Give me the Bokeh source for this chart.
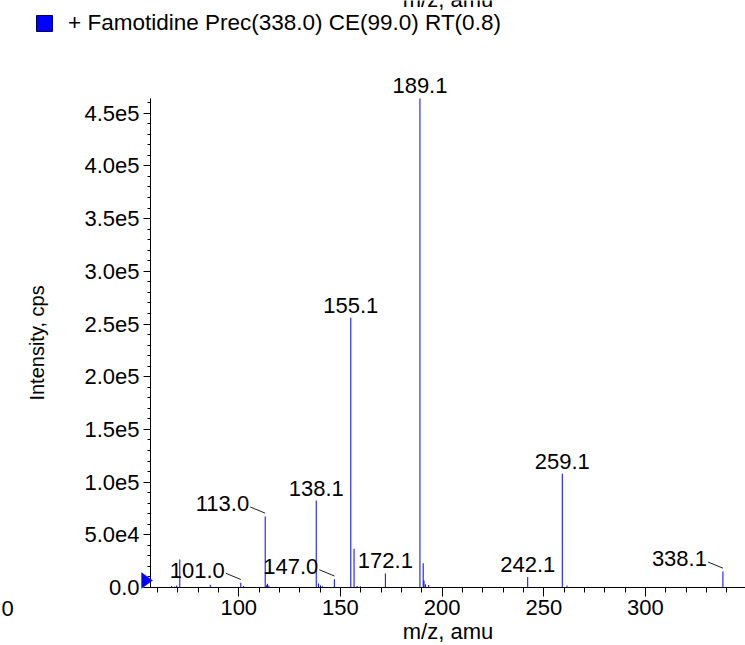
from bokeh.plotting import figure
from bokeh.models import (ColumnDataSource, LabelSet, Label, Legend, LegendItem,
                          SingleIntervalTicker, CustomJSTickFormatter, PolyAnnotation)
from bokeh.core.properties import value
from bokeh.embed import file_html
from bokeh.resources import INLINE

# ---------------- data ----------------
mz = [67.0, 68.5, 69.5, 71.0, 86.0, 101.0, 102.3, 113.0, 113.6, 114.1, 114.8,
      138.1, 139.2, 140.2, 141.0, 147.0, 155.1, 156.7, 158.2, 159.8, 172.1,
      189.1, 190.7, 191.1, 191.8, 193.4, 242.1, 259.1, 261.4, 338.1]
intensity = [1500, 1000, 1800, 26600, 2600, 4500, 1500, 67400, 2000, 3500, 1800,
             82500, 3800, 2000, 1500, 7800, 256000, 36700, 1500, 1200, 13300,
             464000, 23000, 6600, 3000, 2400, 10000, 108000, 1900, 15200]

label_mz = [101.0, 113.0, 138.1, 147.0, 155.1, 172.1, 189.1, 242.1, 259.1, 338.1]
label_text = ["101.0", "113.0", "138.1", "147.0", "155.1", "172.1", "189.1",
              "242.1", "259.1", "338.1"]
label_side = ["left", "left", "above", "left", "above", "above", "above",
              "above", "above", "left"]

legend_label = "+ Famotidine Prec(338.0) CE(99.0) RT(0.8)"
x_title = "m/z, amu"
y_title = "Intensity, cps"
stray_tick_text = "0"

x_axis_start = 56.6
y_axis_start, y_axis_end = 0, 464000
x_tick_interval = 50
y_tick_interval = 50000

# ---------------- geometry ----------------
W, H = 745, 645
AX_X_PX, AX_Y_PX = 150, 587          # pixel position of the axis origin
X_PX_PER_UNIT = 2.0335
Y_UNITS_PER_PX = 948.8
px_x = 1.0 / X_PX_PER_UNIT
px_y = Y_UNITS_PER_PX
x_view = (x_axis_start - AX_X_PX * px_x, x_axis_start + (W - AX_X_PX) * px_x)
y_view = (y_axis_start - (H - AX_Y_PX) * px_y, y_axis_start + AX_Y_PX * px_y)

FONT = "Liberation Sans"
BLUE = "#0000FF"
NAN = float("nan")

p = figure(width=W, height=H, x_range=x_view, y_range=y_view,
           output_backend="svg", toolbar_location=None,
           min_border=0, min_border_left=0, min_border_right=0,
           min_border_top=0, min_border_bottom=0,
           background_fill_color="white", border_fill_color="white")
p.outline_line_color = None
p.xgrid.visible = False
p.ygrid.visible = False

# spectrum sticks
src = ColumnDataSource(dict(x=mz, y0=[0] * len(mz), y1=intensity))
p.segment(x0="x", y0="y0", x1="x", y1="y1", source=src, line_color=BLUE,
          line_width=1)

# peak labels
peak_int = dict(zip(mz, intensity))
ab = dict(x=[], y=[], text=[])
lf = dict(x=[], y=[], text=[])
ld = dict(x0=[], y0=[], x1=[], y1=[])
for m, t, s in zip(label_mz, label_text, label_side):
    h = peak_int[m]
    if s == "above":
        ab["x"].append(m); ab["y"].append(h); ab["text"].append(t)
    else:
        lf["x"].append(m); lf["y"].append(h); lf["text"].append(t)
        ld["x0"].append(m - 15 * px_x); ld["y0"].append(h + 9.5 * px_y)
        ld["x1"].append(m); ld["y1"].append(h + 3.3 * px_y)

p.segment(x0="x0", y0="y0", x1="x1", y1="y1", source=ColumnDataSource(ld),
          line_color="#202020", line_width=1)

lab_common = dict(text_font=value(FONT), text_font_size=value("22px"),
                  text_color="black", text_baseline="alphabetic")
p.add_layout(LabelSet(x="x", y="y", text="text", source=ColumnDataSource(ab),
                      text_align="center", y_offset=5, **lab_common))
p.add_layout(LabelSet(x="x", y="y", text="text", source=ColumnDataSource(lf),
                      text_align="right", x_offset=-16, y_offset=5, **lab_common))

# axes, drawn at the data origin inside the (full-canvas) frame
xa = p.xaxis[0]
xa.fixed_location = y_axis_start
xa.bounds = (x_axis_start, x_view[1])
xa.ticker = SingleIntervalTicker(interval=x_tick_interval, num_minor_ticks=5)
xa.axis_label = x_title
ya = p.yaxis[0]
ya.fixed_location = x_axis_start
ya.bounds = (y_axis_start, y_axis_end)
ya.ticker = SingleIntervalTicker(interval=y_tick_interval, num_minor_ticks=5)
ya.axis_label = y_title
ya.formatter = CustomJSTickFormatter(code="""
if (tick == 0) return "0.0";
const e = Math.floor(Math.log10(Math.abs(tick)) + 1e-9);
const m = tick / Math.pow(10, e);
return m.toFixed(1) + "e" + e;
""")
for ax in (xa, ya):
    ax.axis_line_color = "black"
    ax.major_tick_line_color = "black"
    ax.minor_tick_line_color = "black"
    ax.major_tick_in = 0
    ax.minor_tick_in = 0
    ax.major_label_text_font = FONT
    ax.major_label_text_font_size = "22px"
    ax.major_label_text_color = "black"
    ax.axis_label_text_font = FONT
    ax.axis_label_text_font_style = "normal"
    ax.axis_label_text_color = "black"
xa.major_tick_out = 9
xa.minor_tick_out = 5
xa.major_label_standoff = 3
xa.axis_label_standoff = 1
xa.axis_label_text_font_size = "22px"
ya.major_tick_out = 7
ya.minor_tick_out = 3
ya.major_label_standoff = 4
ya.axis_label_standoff = 33
ya.axis_label_text_font_size = "20px"

# origin marker (blue triangle at the axis origin)
ox, oy = x_axis_start, y_axis_start
p.add_layout(PolyAnnotation(xs=[ox - 9 * px_x, ox + 2 * px_x, ox - 9 * px_x],
                            ys=[oy + 15 * px_y, oy + 7 * px_y, oy - 1 * px_y],
                            fill_color=BLUE, fill_alpha=1.0,
                            line_color="#000080", line_width=1))

# legend (its swatch renderer holds no drawable data)
leg_src = ColumnDataSource(dict(left=[NAN], right=[NAN], top=[NAN], bottom=[NAN]))
leg_r = p.quad(left="left", right="right", top="top", bottom="bottom",
               source=leg_src, fill_color=BLUE, line_color="#000060",
               line_width=1)
legend = Legend(items=[LegendItem(label=legend_label, renderers=[leg_r])],
                location=(34, 609), glyph_width=20, glyph_height=20,
                label_standoff=14, padding=0, margin=0, spacing=0,
                border_line_color=None, background_fill_alpha=0,
                label_text_font=FONT, label_text_font_size="22.5px",
                label_text_color="black")
p.add_layout(legend)

# duplicate axis title cut by the top edge, and the stray "0" at the left
p.add_layout(Label(x=AX_X_PX + (W - AX_X_PX) / 2, y=H + 1, x_units="screen",
                   y_units="screen", text=x_title, text_align="center",
                   text_baseline="alphabetic", text_font=FONT,
                   text_font_size="22px", text_color="black"))
p.add_layout(Label(x=1, y=H - 608, x_units="screen", y_units="screen",
                   text=stray_tick_text, text_align="left",
                   text_baseline="alphabetic", text_font=FONT,
                   text_font_size="22px", text_color="black"))

open("out.html", "w").write(file_html(p, INLINE))
